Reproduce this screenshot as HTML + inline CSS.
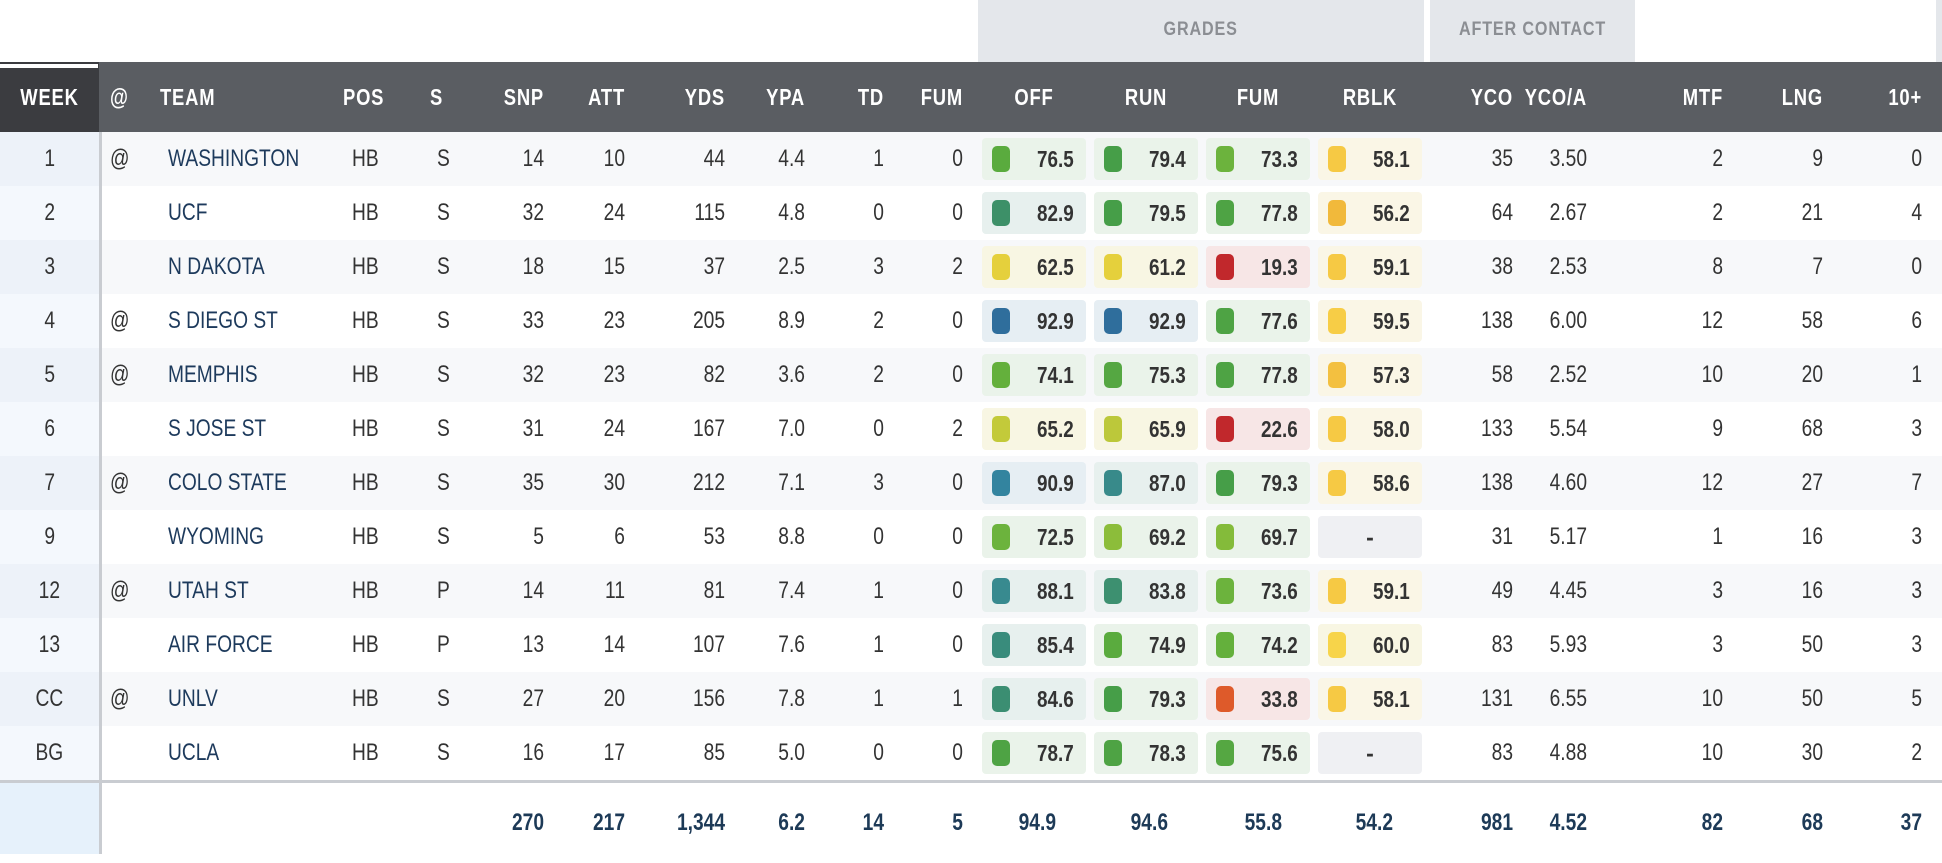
<!DOCTYPE html>
<html><head><meta charset="utf-8"><style>
*{margin:0;padding:0;box-sizing:border-box}
body{width:1942px;height:854px;background:#fff;position:relative;overflow:hidden;font-family:"Liberation Sans Narrow","Liberation Sans",sans-serif;color:#333;font-size:24px}
.grp{position:absolute;top:0;height:62px;background:#e4e7eb;color:#8b8e93;font-weight:bold;font-size:19px;letter-spacing:1px;text-align:center;line-height:60px}
.grp b{display:inline-block;transform:scaleX(.85)}
.hd{position:absolute;top:62px;left:0;width:1942px;height:70px;background:#5a5d62;color:#fff;font-weight:bold;font-size:23px;letter-spacing:1px}
.hd span,.r span{position:absolute;top:0}
.hd span{line-height:70px}
.r{position:absolute;left:0;width:1942px;height:54px}
.r span{line-height:54px}
.hd span,.r span,.t span{transform:scaleX(.8);transform-origin:left center}
.o{background:#f7f8fa}.e{background:#fff}
.hd .wk,.r .wk{left:0;width:99px;text-align:center;height:100%;transform:none}
.wk b{display:inline-block;transform:scaleX(.8)}
.r .wk b{font-weight:normal}
.o .wk{background:#edf2f9}.e .wk{background:#f4f8fd}
.at{left:110px}.tm{left:168px;color:#1d3a5c}.ps{left:352px}.ss{left:437px}
.hd .tm{left:160px;color:#fff}.hd .ps{left:343px}.hd .ss{left:430px}
.c1,.c2,.c3,.c4,.c5,.c6,.c7,.c8,.c9,.c10,.c11,.tr{transform-origin:right center!important;text-align:right;width:104px}
.c1{left:440px}.c2{left:521px}.c3{left:621px}.c4{left:701px}.c5{left:780px}.c6{left:859px}
.c7{left:1409px}.c8{left:1483px}.c9{left:1619px}.c10{left:1719px}.c11{left:1818px}
.g1{left:982px}.g2{left:1094px}.g3{left:1206px}.g4{left:1318px}
.hd .g{text-align:center;width:104px;transform-origin:center}
.r .b{top:6px;height:42px;width:104px;border-radius:4px;line-height:42px;text-align:right;padding-right:12px;font-weight:bold;color:#333;transform:none;font-size:23px}
.b em{font-style:normal;display:inline-block;transform:scaleX(.82);transform-origin:right center}
.b i{position:absolute;left:10px;top:8px;width:18px;height:26px;border-radius:5px}
.gr{background:#eaf3ea}.bl{background:#e6eef3}.te{background:#e7f0ee}.ye{background:#f8f6e3}.rd{background:#f7e6e6}.rb{background:#faf6e6}.ds{background:#eff0f3;text-align:center!important;padding:0!important}
.t{position:absolute;left:0;top:783px;width:1942px;height:71px}
.t span{position:absolute;top:0;line-height:80px;font-weight:bold;color:#1d3a57}
</style></head><body>
<div class="grp" style="left:978px;width:446px"><b>GRADES</b></div>
<div class="grp" style="left:1430px;width:205px"><b>AFTER CONTACT</b></div>
<div style="position:absolute;left:1936px;top:0;width:6px;height:62px;background:#e4e7eb"></div>
<div class="hd">
<span class="wk" style="background:#3b3c40;line-height:70px"><b>WEEK</b></span>
<div style="position:absolute;left:0;top:2px;width:98px;height:4px;background:#fff"></div>
<span class="at">@</span><span class="tm">TEAM</span><span class="ps">POS</span><span class="ss">S</span>
<span class="c1">SNP</span><span class="c2">ATT</span><span class="c3">YDS</span><span class="c4">YPA</span><span class="c5">TD</span><span class="c6">FUM</span>
<span class="g g1">OFF</span><span class="g g2">RUN</span><span class="g g3">FUM</span><span class="g g4">RBLK</span>
<span class="c7">YCO</span><span class="c8">YCO/A</span><span class="c9">MTF</span><span class="c10">LNG</span><span class="c11">10+</span>
</div>

<div class="r o" style="top:132px"><span class="wk"><b>1</b></span><span class="at">@</span><span class="tm">WASHINGTON</span><span class="ps">HB</span><span class="ss">S</span><span class="c1">14</span><span class="c2">10</span><span class="c3">44</span><span class="c4">4.4</span><span class="c5">1</span><span class="c6">0</span>
<span class="b g1 gr"><i style="background:#5aab3e"></i><em>76.5</em></span><span class="b g2 gr"><i style="background:#469e48"></i><em>79.4</em></span><span class="b g3 gr"><i style="background:#6cb33d"></i><em>73.3</em></span><span class="b g4 rb"><i style="background:#f6c944"></i><em>58.1</em></span>
<span class="c7">35</span><span class="c8">3.50</span><span class="c9">2</span><span class="c10">9</span><span class="c11">0</span></div>

<div class="r e" style="top:186px"><span class="wk"><b>2</b></span><span class="tm">UCF</span><span class="ps">HB</span><span class="ss">S</span><span class="c1">32</span><span class="c2">24</span><span class="c3">115</span><span class="c4">4.8</span><span class="c5">0</span><span class="c6">0</span>
<span class="b g1 te"><i style="background:#3d9068"></i><em>82.9</em></span><span class="b g2 gr"><i style="background:#469e48"></i><em>79.5</em></span><span class="b g3 gr"><i style="background:#4ea344"></i><em>77.8</em></span><span class="b g4 rb"><i style="background:#f1b93b"></i><em>56.2</em></span>
<span class="c7">64</span><span class="c8">2.67</span><span class="c9">2</span><span class="c10">21</span><span class="c11">4</span></div>

<div class="r o" style="top:240px"><span class="wk"><b>3</b></span><span class="tm">N DAKOTA</span><span class="ps">HB</span><span class="ss">S</span><span class="c1">18</span><span class="c2">15</span><span class="c3">37</span><span class="c4">2.5</span><span class="c5">3</span><span class="c6">2</span>
<span class="b g1 ye"><i style="background:#e5d03c"></i><em>62.5</em></span><span class="b g2 ye"><i style="background:#e5d03c"></i><em>61.2</em></span><span class="b g3 rd"><i style="background:#c1282c"></i><em>19.3</em></span><span class="b g4 rb"><i style="background:#f6c944"></i><em>59.1</em></span>
<span class="c7">38</span><span class="c8">2.53</span><span class="c9">8</span><span class="c10">7</span><span class="c11">0</span></div>

<div class="r e" style="top:294px"><span class="wk"><b>4</b></span><span class="at">@</span><span class="tm">S DIEGO ST</span><span class="ps">HB</span><span class="ss">S</span><span class="c1">33</span><span class="c2">23</span><span class="c3">205</span><span class="c4">8.9</span><span class="c5">2</span><span class="c6">0</span>
<span class="b g1 bl"><i style="background:#2f6e9c"></i><em>92.9</em></span><span class="b g2 bl"><i style="background:#2f6e9c"></i><em>92.9</em></span><span class="b g3 gr"><i style="background:#4ea344"></i><em>77.6</em></span><span class="b g4 rb"><i style="background:#f7cd46"></i><em>59.5</em></span>
<span class="c7">138</span><span class="c8">6.00</span><span class="c9">12</span><span class="c10">58</span><span class="c11">6</span></div>

<div class="r o" style="top:348px"><span class="wk"><b>5</b></span><span class="at">@</span><span class="tm">MEMPHIS</span><span class="ps">HB</span><span class="ss">S</span><span class="c1">32</span><span class="c2">23</span><span class="c3">82</span><span class="c4">3.6</span><span class="c5">2</span><span class="c6">0</span>
<span class="b g1 gr"><i style="background:#64b03c"></i><em>74.1</em></span><span class="b g2 gr"><i style="background:#55a742"></i><em>75.3</em></span><span class="b g3 gr"><i style="background:#4ea344"></i><em>77.8</em></span><span class="b g4 rb"><i style="background:#f3c040"></i><em>57.3</em></span>
<span class="c7">58</span><span class="c8">2.52</span><span class="c9">10</span><span class="c10">20</span><span class="c11">1</span></div>

<div class="r e" style="top:402px"><span class="wk"><b>6</b></span><span class="tm">S JOSE ST</span><span class="ps">HB</span><span class="ss">S</span><span class="c1">31</span><span class="c2">24</span><span class="c3">167</span><span class="c4">7.0</span><span class="c5">0</span><span class="c6">2</span>
<span class="b g1 ye"><i style="background:#c3ca3a"></i><em>65.2</em></span><span class="b g2 ye"><i style="background:#bcc83a"></i><em>65.9</em></span><span class="b g3 rd"><i style="background:#c1282c"></i><em>22.6</em></span><span class="b g4 rb"><i style="background:#f6c944"></i><em>58.0</em></span>
<span class="c7">133</span><span class="c8">5.54</span><span class="c9">9</span><span class="c10">68</span><span class="c11">3</span></div>

<div class="r o" style="top:456px"><span class="wk"><b>7</b></span><span class="at">@</span><span class="tm">COLO STATE</span><span class="ps">HB</span><span class="ss">S</span><span class="c1">35</span><span class="c2">30</span><span class="c3">212</span><span class="c4">7.1</span><span class="c5">3</span><span class="c6">0</span>
<span class="b g1 bl"><i style="background:#33849f"></i><em>90.9</em></span><span class="b g2 te"><i style="background:#388a8a"></i><em>87.0</em></span><span class="b g3 gr"><i style="background:#469e48"></i><em>79.3</em></span><span class="b g4 rb"><i style="background:#f6c944"></i><em>58.6</em></span>
<span class="c7">138</span><span class="c8">4.60</span><span class="c9">12</span><span class="c10">27</span><span class="c11">7</span></div>

<div class="r e" style="top:510px"><span class="wk"><b>9</b></span><span class="tm">WYOMING</span><span class="ps">HB</span><span class="ss">S</span><span class="c1">5</span><span class="c2">6</span><span class="c3">53</span><span class="c4">8.8</span><span class="c5">0</span><span class="c6">0</span>
<span class="b g1 gr"><i style="background:#6cb33d"></i><em>72.5</em></span><span class="b g2 gr"><i style="background:#8cbd3a"></i><em>69.2</em></span><span class="b g3 gr"><i style="background:#84bb3a"></i><em>69.7</em></span><span class="b g4 ds">-</span>
<span class="c7">31</span><span class="c8">5.17</span><span class="c9">1</span><span class="c10">16</span><span class="c11">3</span></div>

<div class="r o" style="top:564px"><span class="wk"><b>12</b></span><span class="at">@</span><span class="tm">UTAH ST</span><span class="ps">HB</span><span class="ss">P</span><span class="c1">14</span><span class="c2">11</span><span class="c3">81</span><span class="c4">7.4</span><span class="c5">1</span><span class="c6">0</span>
<span class="b g1 te"><i style="background:#388a8f"></i><em>88.1</em></span><span class="b g2 te"><i style="background:#3d9070"></i><em>83.8</em></span><span class="b g3 gr"><i style="background:#6cb33d"></i><em>73.6</em></span><span class="b g4 rb"><i style="background:#f6c944"></i><em>59.1</em></span>
<span class="c7">49</span><span class="c8">4.45</span><span class="c9">3</span><span class="c10">16</span><span class="c11">3</span></div>

<div class="r e" style="top:618px"><span class="wk"><b>13</b></span><span class="tm">AIR FORCE</span><span class="ps">HB</span><span class="ss">P</span><span class="c1">13</span><span class="c2">14</span><span class="c3">107</span><span class="c4">7.6</span><span class="c5">1</span><span class="c6">0</span>
<span class="b g1 te"><i style="background:#398c7c"></i><em>85.4</em></span><span class="b g2 gr"><i style="background:#5aab3e"></i><em>74.9</em></span><span class="b g3 gr"><i style="background:#64b03c"></i><em>74.2</em></span><span class="b g4 ye"><i style="background:#f7d44a"></i><em>60.0</em></span>
<span class="c7">83</span><span class="c8">5.93</span><span class="c9">3</span><span class="c10">50</span><span class="c11">3</span></div>

<div class="r o" style="top:672px"><span class="wk"><b>CC</b></span><span class="at">@</span><span class="tm">UNLV</span><span class="ps">HB</span><span class="ss">S</span><span class="c1">27</span><span class="c2">20</span><span class="c3">156</span><span class="c4">7.8</span><span class="c5">1</span><span class="c6">1</span>
<span class="b g1 te"><i style="background:#3b8e72"></i><em>84.6</em></span><span class="b g2 gr"><i style="background:#469e48"></i><em>79.3</em></span><span class="b g3 rd"><i style="background:#de5a2a"></i><em>33.8</em></span><span class="b g4 rb"><i style="background:#f6c944"></i><em>58.1</em></span>
<span class="c7">131</span><span class="c8">6.55</span><span class="c9">10</span><span class="c10">50</span><span class="c11">5</span></div>

<div class="r e" style="top:726px"><span class="wk"><b>BG</b></span><span class="tm">UCLA</span><span class="ps">HB</span><span class="ss">S</span><span class="c1">16</span><span class="c2">17</span><span class="c3">85</span><span class="c4">5.0</span><span class="c5">0</span><span class="c6">0</span>
<span class="b g1 gr"><i style="background:#4ea344"></i><em>78.7</em></span><span class="b g2 gr"><i style="background:#4ea344"></i><em>78.3</em></span><span class="b g3 gr"><i style="background:#55a742"></i><em>75.6</em></span><span class="b g4 ds">-</span>
<span class="c7">83</span><span class="c8">4.88</span><span class="c9">10</span><span class="c10">30</span><span class="c11">2</span></div>

<div style="position:absolute;left:0;top:780px;width:1942px;height:3px;background:#c9ccd1"></div>
<div class="t">
<div style="position:absolute;left:0;top:0;width:99px;height:71px;background:#e6f1fb"></div>
<span class="c1">270</span><span class="c2">217</span><span class="c3">1,344</span><span class="c4">6.2</span><span class="c5">14</span><span class="c6">5</span>
<span class="tr" style="left:952px">94.9</span><span class="tr" style="left:1064px">94.6</span><span class="tr" style="left:1178px">55.8</span><span class="tr" style="left:1289px">54.2</span>
<span class="c7">981</span><span class="c8">4.52</span><span class="c9">82</span><span class="c10">68</span><span class="c11">37</span>
</div>
<div style="position:absolute;left:99px;top:132px;width:3px;height:722px;background:#c9ccd1"></div>
</body></html>
